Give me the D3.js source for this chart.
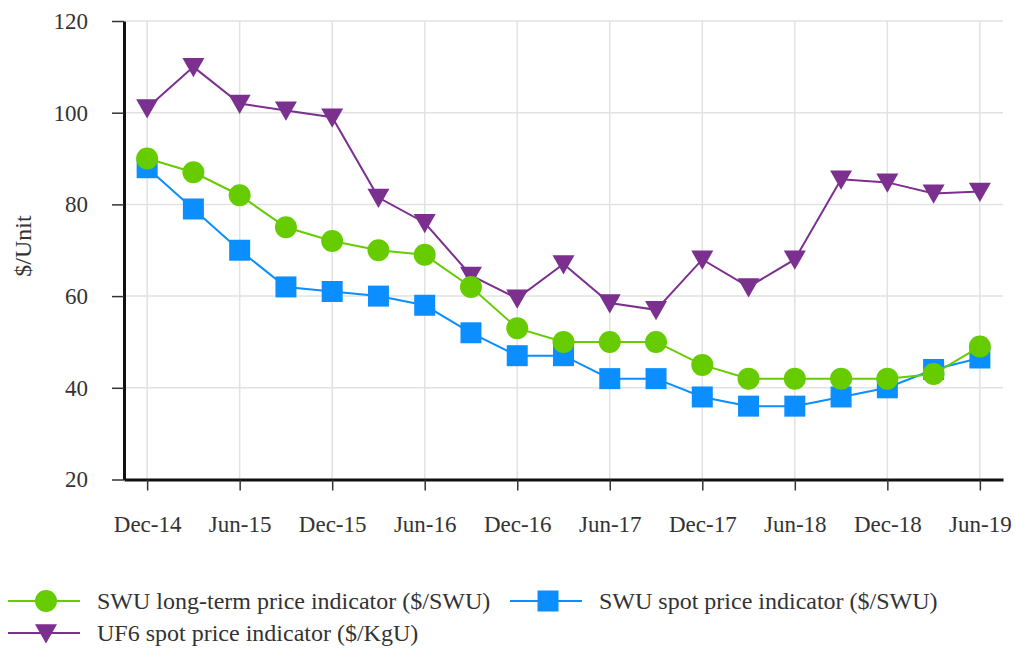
<!DOCTYPE html>
<html>
<head>
<meta charset="utf-8">
<script src="https://cdn.jsdelivr.net/npm/d3@7"></script>
<style>
  body { margin: 0; background: #fff; }
  svg text { font-family: 'Liberation Serif', 'DejaVu Serif', serif; fill: #333; }
</style>
</head>
<body>
<div id="chart-area"></div>
<script>
var quarters = ['Dec-14', 'Mar-15', 'Jun-15', 'Sep-15', 'Dec-15', 'Mar-16', 'Jun-16', 'Sep-16', 'Dec-16', 'Mar-17',
                'Jun-17', 'Sep-17', 'Dec-17', 'Mar-18', 'Jun-18', 'Sep-18', 'Dec-18', 'Mar-19', 'Jun-19'];
var swuLongTerm = [90, 87, 82, 75, 72, 70, 69, 62, 53, 50, 50, 50, 45, 42, 42, 42, 42, 43, 49];
var swuSpot = [88, 79, 70, 62, 61, 60, 58, 52, 47, 47, 42, 42, 38, 36, 36, 38, 40, 44, 46.5];
var uf6Spot = [101, 110, 102, 100.5, 99, 81.5, 76, 64.5, 59.5, 67, 58.5, 57, 68, 62, 68, 85.5, 84.8, 82.4, 82.8];
var yTicks = [20, 40, 60, 80, 100, 120];

var seriesNames = ['SWU long-term price indicator ($/SWU)', 'SWU spot price indicator ($/SWU)', 'UF6 spot price indicator ($/KgU)'];

var W = 1015, H = 670;
var svg = d3.select('#chart-area').append('svg').attr('width', W).attr('height', H);

var x = d3.scaleLinear().domain([-0.5, quarters.length - 0.5]).range([124, 1003]);
var y = d3.scaleLinear().domain([20, 120]).range([479.5, 21]);

// grid
var labelled = d3.range(0, quarters.length, 2);
svg.append('g').selectAll('line').data(labelled).enter().append('line')
    .attr('x1', d => x(d)).attr('x2', d => x(d))
    .attr('y1', y(120)).attr('y2', y(20))
    .attr('stroke', '#e2e2e2').attr('stroke-width', 1.5);
svg.append('g').selectAll('line').data(yTicks.slice(1)).enter().append('line')
    .attr('x1', x(-0.5)).attr('x2', x(quarters.length - 0.5))
    .attr('y1', d => y(d)).attr('y2', d => y(d))
    .attr('stroke', '#e2e2e2').attr('stroke-width', 1.5);

// axes
var xAxisCall = d3.axisBottom(x).tickValues(labelled).tickFormat(i => quarters[i])
    .tickSize(11).tickSizeOuter(0).tickPadding(25);
var xAxis = svg.append('g').attr('transform', `translate(0, ${y(20)})`).call(xAxisCall);

var yAxisCall = d3.axisLeft(y).tickValues(yTicks).tickSize(12).tickSizeOuter(0).tickPadding(24);
var yAxis = svg.append('g').attr('transform', `translate(${x(-0.5)}, 0)`).call(yAxisCall);

[xAxis, yAxis].forEach(a => {
  a.attr('font-family', null);
  a.select('.domain').attr('stroke', '#111').attr('stroke-width', 3);
  a.selectAll('.tick line').attr('stroke', '#333').attr('stroke-width', 1.5);
  a.selectAll('.tick text').attr('font-size', '23px').attr('fill', '#333');
});

svg.append('text')
    .attr('transform', 'translate(31, 246) rotate(-90)')
    .attr('text-anchor', 'middle')
    .attr('font-size', '24px')
    .text('$/Unit');

// series
var colors = ['#66cc00', '#0b8eff', '#7b2f8f'];
var allSeries = [swuLongTerm, swuSpot, uf6Spot];

var circle = d3.symbol().type(d3.symbolCircle).size(Math.PI * 11 * 11);
var square = d3.symbol().type(d3.symbolSquare).size(21 * 21);
var triDown = function(s) {
  return `M${-s},${-s * 0.8}L${s},${-s * 0.8}L0,${s * 0.95}Z`;
};
var shapes = [circle(), square(), triDown(11)];

var line = d3.line().x((d, i) => x(i)).y(d => y(d));

// purple underneath, then blue, green on top
[2, 1, 0].forEach(k => {
  var g = svg.append('g');
  g.append('path').datum(allSeries[k])
      .attr('fill', 'none').attr('stroke', colors[k]).attr('stroke-width', 2)
      .attr('d', line);
  g.selectAll('path.mark').data(allSeries[k]).enter().append('path')
      .attr('class', 'mark')
      .attr('transform', (d, i) => `translate(${x(i)}, ${y(d)})`)
      .attr('d', shapes[k])
      .attr('fill', colors[k]);
});

// legend
var legendPos = [[8, 601], [510, 601], [8, 633]];
seriesNames.forEach((name, k) => {
  var lx = legendPos[k][0], ly = legendPos[k][1];
  var lg = svg.append('g').attr('transform', `translate(${lx}, ${ly})`);
  lg.append('line').attr('x1', 0).attr('x2', 72).attr('y1', 0).attr('y2', 0)
      .attr('stroke', colors[k]).attr('stroke-width', 2);
  lg.append('path').attr('transform', 'translate(38, 0)').attr('d', shapes[k]).attr('fill', colors[k]);
  lg.append('text').attr('x', 89).attr('y', 0).attr('dy', '0.35em')
      .attr('font-size', '24px')
      .text(name);
});
</script>
</body>
</html>
